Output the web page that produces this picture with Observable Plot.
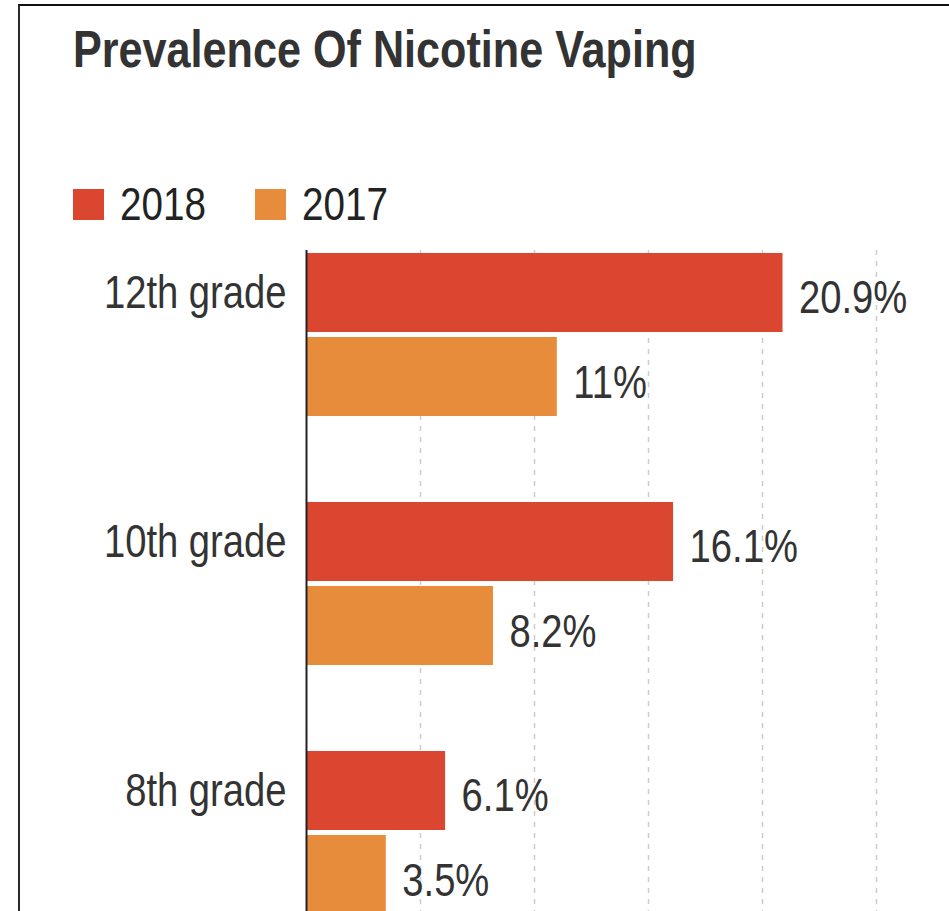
<!DOCTYPE html>
<html>
<head>
<meta charset="utf-8">
<script src="https://cdn.jsdelivr.net/npm/d3@7"></script>
<script src="https://cdn.jsdelivr.net/npm/@observablehq/plot@0.6"></script>
<style>
  html, body { margin: 0; padding: 0; background: #fff; overflow: hidden; width: 949px; height: 911px;
               font-family: "Liberation Sans", Arial, sans-serif; }
  .frame { position: absolute; left: 18px; top: 4px; right: -20px; bottom: -20px;
           border-top: 2px solid #111; border-left: 2px solid #2a2a2a; }
  .title { position: absolute; left: 73px; top: 23px; margin: 0; line-height: 1;
           font-size: 52px; font-weight: bold; color: #333; white-space: nowrap;
           transform: scaleX(0.83); transform-origin: left center; }
  .legend { position: absolute; left: 73px; top: 181px; display: flex; align-items: center;
            font-size: 46px; line-height: 1; color: #222; }
  .legend .item { display: flex; align-items: center; width: 182px; }
  .legend .swatch { width: 31px; height: 31px; margin-right: 16px; flex: none; }
  .legend .label { display: inline-block; transform: scaleX(0.84); transform-origin: left center; }
  #chart { position: absolute; left: 0; top: 248px; }
</style>
</head>
<body>
<div class="frame"></div>
<h2 class="title">Prevalence Of Nicotine Vaping</h2>
<div class="legend" id="legend"></div>
<div id="chart"></div>
<script>
// Share of students who vaped nicotine, by grade and survey year
const grades = ["12th grade", "10th grade", "8th grade"];
const years = ["2018", "2017"];
const values2018 = [20.9, 16.1, 6.1];
const values2017 = [11, 8.2, 3.5];
const yearColors = ["#db4631", "#e68c3a"];
const xTicks = [5, 10, 15, 20, 25];

const FONT = '"Liberation Sans", Arial, sans-serif';
const NARROW = 0.83; // horizontal squeeze giving a condensed look

const rows2018 = grades.map((grade, i) => ({grade, year: years[0], value: values2018[i]}));
const rows2017 = grades.map((grade, i) => ({grade, year: years[1], value: values2017[i]}));

// Legend: one swatch per survey year
const legend = document.getElementById("legend");
years.forEach((y, i) => {
  const item = document.createElement("div");
  item.className = "item";
  const sw = document.createElement("span");
  sw.className = "swatch";
  sw.style.background = yearColors[i];
  const lab = document.createElement("span");
  lab.className = "label";
  lab.textContent = y;
  item.appendChild(sw);
  item.appendChild(lab);
  legend.appendChild(item);
});

// Each grade gets one band; the 2018 bar fills its top part, 2017 its bottom part
const BAR = 80, GAP = 4;
const HALF = (BAR + GAP) / 2;
const fs = 46;

const chart = Plot.plot({
  width: 949,
  height: 670,
  marginLeft: 306,
  marginRight: 73,
  marginTop: 2,
  marginBottom: 0,
  style: {fontFamily: FONT, fontSize: fs + "px", color: "#333", background: "transparent", overflow: "visible"},
  x: {domain: [0, 25], axis: null},
  y: {domain: grades, paddingInner: 0.344, paddingOuter: 0.008, axis: null},
  color: {domain: years, range: yearColors},
  marks: [
    Plot.ruleX(xTicks, {stroke: "#cccccc", strokeWidth: 1.5, strokeDasharray: "5,6"}),
    Plot.barX(rows2018, {y: "grade", x: "value", fill: "year", insetBottom: BAR + GAP}),
    Plot.barX(rows2017, {y: "grade", x: "value", fill: "year", insetTop: BAR + GAP}),
    Plot.ruleX([0], {stroke: "#222", strokeWidth: 2}),
    Plot.text(rows2018, {y: "grade", x: "value", text: d => d.value + "%", dx: 16, dy: -HALF + 5,
                         textAnchor: "start", fontSize: fs, fill: "#333"}),
    Plot.text(rows2017, {y: "grade", x: "value", text: d => d.value + "%", dx: 16, dy: HALF + 6,
                         textAnchor: "start", fontSize: fs, fill: "#333"}),
    Plot.text(grades, {y: d => d, frameAnchor: "left", dx: -20, dy: -HALF,
                       textAnchor: "end", fontSize: fs, fill: "#333"})
  ]
});

// Condense every label around its own anchor point
d3.select(chart).selectAll("text").each(function() {
  const t = this.getAttribute("transform") || "";
  this.setAttribute("transform", `${t} scale(${NARROW},1)`);
});

document.getElementById("chart").appendChild(chart);
</script>
</body>
</html>
